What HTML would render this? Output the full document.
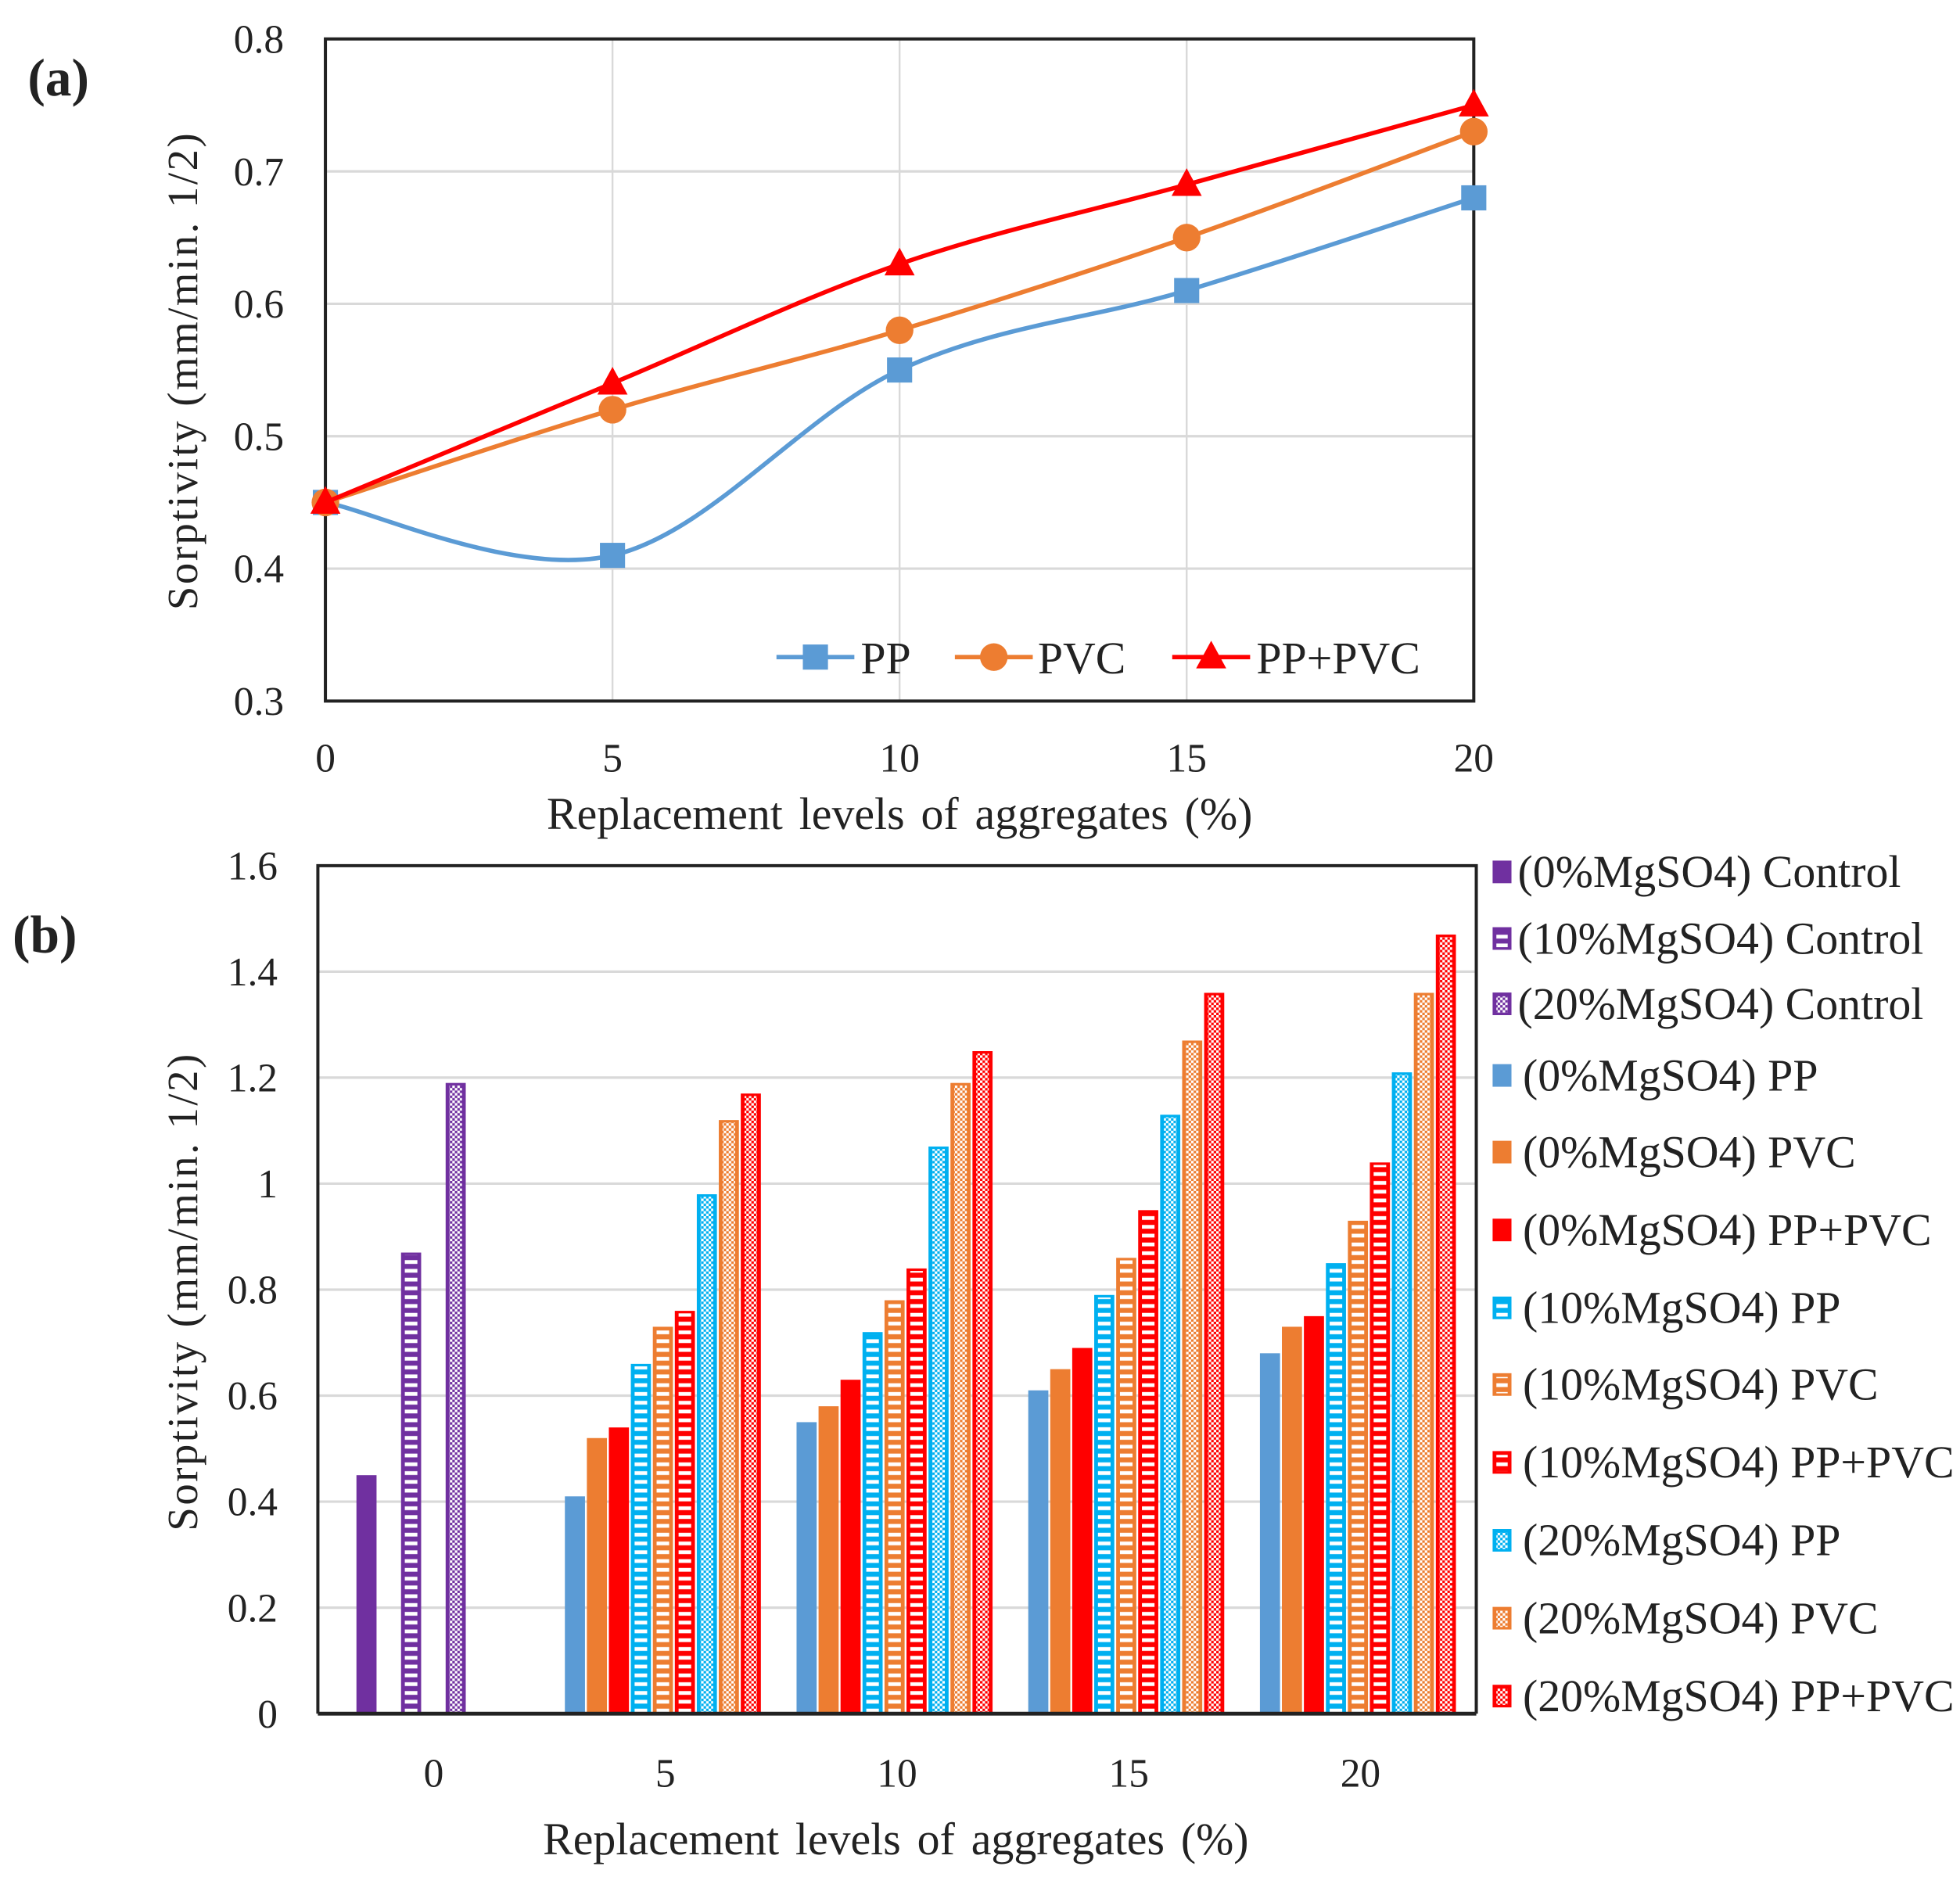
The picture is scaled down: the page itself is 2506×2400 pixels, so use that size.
<!DOCTYPE html>
<html><head><meta charset="utf-8"><style>html,body{margin:0;padding:0;background:#fff}svg{display:block}text{font-family:"Liberation Serif",serif;fill:#222}</style></head>
<body>
<svg id="s" width="2506" height="2400" viewBox="0 0 1560 1494" preserveAspectRatio="none" xmlns="http://www.w3.org/2000/svg">
<defs>
<pattern id="stripe" width="6" height="7" patternUnits="userSpaceOnUse"><rect width="6" height="7" fill="none"/><rect x="0" y="2" width="6" height="3" fill="#fff"/></pattern>
<pattern id="dots" width="4" height="4" patternUnits="userSpaceOnUse"><rect width="2" height="2" fill="#fff"/><rect x="2" y="2" width="2" height="2" fill="#fff"/></pattern>
</defs>
<g id="ga"></g>
<g id="gb"></g>
</svg>
<script>
// ---- Chart (a) data ----
const aX = [0, 5, 10, 15, 20];
const aPP = [0.45, 0.41, 0.55, 0.61, 0.68];
const aPVC = [0.45, 0.52, 0.58, 0.65, 0.73];
const aPPPVC = [0.45, 0.54, 0.63, 0.69, 0.75];
const aYTicks = [0.3, 0.4, 0.5, 0.6, 0.7, 0.8];
const aYTickLabels = ["0.3", "0.4", "0.5", "0.6", "0.7", "0.8"];
// ---- Chart (b) data ----
const bCats = ["0", "5", "10", "15", "20"];
const bControl = [0.45, 0.87, 1.19]; // 0%, 10%, 20% MgSO4 at 0
const bPP0 = [0.41, 0.55, 0.61, 0.68];
const bPVC0 = [0.52, 0.58, 0.65, 0.73];
const bPPPVC0 = [0.54, 0.63, 0.69, 0.75];
const bPP10 = [0.66, 0.72, 0.79, 0.85];
const bPVC10 = [0.73, 0.78, 0.86, 0.93];
const bPPPVC10 = [0.76, 0.84, 0.95, 1.04];
const bPP20 = [0.98, 1.07, 1.13, 1.21];
const bPVC20 = [1.12, 1.19, 1.27, 1.36];
const bPPPVC20 = [1.17, 1.25, 1.36, 1.47];
const bYTicks = [0, 0.2, 0.4, 0.6, 0.8, 1, 1.2, 1.4, 1.6];
const bYTickLabels = ["0", "0.2", "0.4", "0.6", "0.8", "1", "1.2", "1.4", "1.6"];
const bLegend = ["(0%MgSO4) Control","(10%MgSO4) Control","(20%MgSO4) Control","(0%MgSO4) PP","(0%MgSO4) PVC","(0%MgSO4) PP+PVC","(10%MgSO4) PP","(10%MgSO4) PVC","(10%MgSO4) PP+PVC","(20%MgSO4) PP","(20%MgSO4) PVC","(20%MgSO4) PP+PVC"];

const NS = "http://www.w3.org/2000/svg";
function mk(parent, tag, attrs, txt) {
  const e = document.createElementNS(NS, tag);
  for (const k in attrs) e.setAttribute(k, attrs[k]);
  if (txt !== undefined) e.textContent = txt;
  parent.appendChild(e);
  return e;
}
// ===== Chart A =====
const ga = document.getElementById('ga');
const aL = 259, aR = 1173, aT = 31, aB = 558;
const axA = v => aL + (v - 0) / 20 * (aR - aL);
const ayA = v => aB - (v - 0.3) / 0.5 * (aB - aT);
aYTicks.forEach((t, i) => {
  if (i > 0 && i < aYTicks.length - 1) {
    const g = mk(ga, 'line', {x1: aL, x2: aR, y1: ayA(t), y2: ayA(t), stroke: '#d9d9d9', 'stroke-width': 2});
    
    
  }
  const l = mk(ga, 'text', {x: 226, y: ayA(t) + 11, 'text-anchor': 'end', 'font-size': 32}, aYTickLabels[i]);
  
  
});
aX.forEach((x, i) => {
  if (i > 0 && i < aX.length - 1) {
    const g = mk(ga, 'line', {x1: axA(x), x2: axA(x), y1: aT, y2: aB, stroke: '#d9d9d9', 'stroke-width': 1.5});
    
    
  }
  const l = mk(ga, 'text', {x: axA(x), y: 614, 'text-anchor': 'middle', 'font-size': 32}, String(x));
  
  
});
const frA = mk(ga, 'rect', {x: aL, y: aT, width: aR - aL, height: aB - aT, fill: 'none', stroke: '#222', 'stroke-width': 2.5});


function smoothPath(pts) {
  let d = `M${pts[0][0]},${pts[0][1]}`;
  for (let i = 0; i < pts.length - 1; i++) {
    const p0 = pts[Math.max(0, i - 1)], p1 = pts[i], p2 = pts[i + 1], p3 = pts[Math.min(pts.length - 1, i + 2)];
    const t = 0.17;
    const c1 = [p1[0] + (p2[0] - p0[0]) * t, p1[1] + (p2[1] - p0[1]) * t];
    const c2 = [p2[0] - (p3[0] - p1[0]) * t, p2[1] - (p3[1] - p1[1]) * t];
    d += ` C${c1[0]},${c1[1]} ${c2[0]},${c2[1]} ${p2[0]},${p2[1]}`;
  }
  return d;
}
function marker(parent, type, x, y, color) {
  let e;
  if (type === 'sq') e = mk(parent, 'rect', {x: x - 10, y: y - 10, width: 20, height: 20, fill: color});
  else if (type === 'ci') e = mk(parent, 'circle', {cx: x, cy: y, r: 11, fill: color});
  else e = mk(parent, 'polygon', {points: `${x},${y - 13} ${x + 12},${y + 9} ${x - 12},${y + 9}`, fill: color});
  return e;
}
const seriesA = [[aPP, '#5B9BD5', 'sq', 'pp'], [aPVC, '#ED7D31', 'ci', 'pvc'], [aPPPVC, '#FF0000', 'tr', 'pp-pvc']];
seriesA.forEach(([vals, col, mt, nm]) => {
  const pts = vals.map((v, i) => [axA(aX[i]), ayA(v)]);
  const p = mk(ga, 'path', {d: smoothPath(pts), fill: 'none', stroke: col, 'stroke-width': 3.5});
  
  
  pts.forEach(pt => {
    const m = marker(ga, mt, pt[0], pt[1], col);
    
    
  });
});
[[618, 685, 'PP', '#5B9BD5', 'sq'], [760, 826, 'PVC', '#ED7D31', 'ci'], [933, 1000, 'PP+PVC', '#FF0000', 'tr']].forEach(([x0, tx, lab, col, mt]) => {
  const g = mk(ga, 'g', {});
  
  
  mk(g, 'line', {x1: x0, x2: x0 + 62, y1: 523, y2: 523, stroke: col, 'stroke-width': 3.5});
  marker(g, mt, x0 + 31, 523, col);
  mk(g, 'text', {x: tx, y: 536, 'font-size': 36}, lab);
});
let t;
t = mk(ga, 'text', {x: 22, y: 76, 'font-size': 42, 'font-weight': 'bold'}, '(a)');
 
t = mk(ga, 'text', {x: 716, y: 660, 'text-anchor': 'middle', 'font-size': 36, 'word-spacing': 4}, 'Replacement levels  of aggregates (%)');
 
t = mk(ga, 'text', {x: 0, y: 0, 'text-anchor': 'middle', 'font-size': 34, 'letter-spacing': 1.6, transform: 'translate(157,295) rotate(-90)'}, 'Sorptivity (mm/min. 1/2)');
 

// ===== Chart B =====
const gb = document.getElementById('gb');
const bL = 253, bR = 1175, bT = 689, bB = 1364;
const catW = (bR - bL) / bCats.length;
const cx = i => bL + catW * (i + 0.5);
const ayB = v => bB - v / 1.6 * (bB - bT);
bYTicks.forEach((tk, i) => {
  if (i > 0 && i < bYTicks.length - 1) {
    const g = mk(gb, 'line', {x1: bL, x2: bR, y1: ayB(tk), y2: ayB(tk), stroke: '#d9d9d9', 'stroke-width': 2});
    
    
  }
  const l = mk(gb, 'text', {x: 221, y: ayB(tk) + 11, 'text-anchor': 'end', 'font-size': 32}, bYTickLabels[i]);
  
  
});
bCats.forEach((c, i) => {
  const l = mk(gb, 'text', {x: cx(i), y: 1422, 'text-anchor': 'middle', 'font-size': 32}, c);
  
  
});
const BW = 16;
function bar(x, v, color, kind, nm) {
  const g = mk(gb, 'g', {});
  
  
  mk(g, 'rect', {x: x - BW / 2, y: ayB(v), width: BW, height: bB - ayB(v), fill: color});
  if (kind > 0) {
    mk(g, 'rect', {x: x - BW / 2 + 3, y: ayB(v) + 2, width: BW - 6, height: Math.max(0, bB - ayB(v) - 2), fill: kind === 1 ? 'url(#stripe)' : 'url(#dots)'});
  }
}
const ctrlKinds = [0, 1, 2];
bControl.forEach((v, k) => bar(cx(0) + (k - 1) * 35.5 - 18, v, '#7030A0', ctrlKinds[k], 'b-bar-control'));
const bSeries = [[bPP0, '#5B9BD5', 0, 'pp-0'], [bPVC0, '#ED7D31', 0, 'pvc-0'], [bPPPVC0, '#FF0000', 0, 'pp-pvc-0'],
  [bPP10, '#00B0F0', 1, 'pp-10'], [bPVC10, '#ED7D31', 1, 'pvc-10'], [bPPPVC10, '#FF0000', 1, 'pp-pvc-10'],
  [bPP20, '#00B0F0', 2, 'pp-20'], [bPVC20, '#ED7D31', 2, 'pvc-20'], [bPPPVC20, '#FF0000', 2, 'pp-pvc-20']];
bSeries.forEach(([vals, col, kind, nm], s) => {
  vals.forEach((v, j) => bar(cx(j + 1) + (s - 4) * 17.5 - 2, v, col, kind, 'b-bar-' + nm));
});
const frB = mk(gb, 'polyline', {points: `${bL},${bB} ${bL},${bT} ${bR},${bT} ${bR},${bB}`, fill: 'none', stroke: '#222', 'stroke-width': 2.5});


const axB = mk(gb, 'line', {x1: bL, x2: bR, y1: bB, y2: bB, stroke: '#222', 'stroke-width': 3});


const legY = [694, 747, 799, 856, 917, 979, 1041, 1102, 1164, 1226, 1288, 1350];
const legCol = ['#7030A0', '#7030A0', '#7030A0', '#5B9BD5', '#ED7D31', '#FF0000', '#00B0F0', '#ED7D31', '#FF0000', '#00B0F0', '#ED7D31', '#FF0000'];
const legKind = [0, 1, 2, 0, 0, 0, 1, 1, 1, 2, 2, 2];
bLegend.forEach((lab, i) => {
  const g = mk(gb, 'g', {});
  
  
  mk(g, 'rect', {x: 1188, y: legY[i] - 9, width: 15, height: 18, fill: legCol[i]});
  if (legKind[i]) mk(g, 'rect', {x: 1191, y: legY[i] - 6, width: 9, height: 13, fill: legKind[i] === 1 ? 'url(#stripe)' : 'url(#dots)'});
  mk(g, 'text', {x: i < 3 ? 1208 : 1212, y: legY[i] + 12, 'font-size': 36}, lab);
});
t = mk(gb, 'text', {x: 10, y: 758, 'font-size': 42, 'font-weight': 'bold'}, '(b)');
 
t = mk(gb, 'text', {x: 713, y: 1476, 'text-anchor': 'middle', 'font-size': 36, 'word-spacing': 4}, 'Replacement levels  of aggregates (%)');
 
t = mk(gb, 'text', {x: 0, y: 0, 'text-anchor': 'middle', 'font-size': 34, 'letter-spacing': 1.6, transform: 'translate(157,1028) rotate(-90)'}, 'Sorptivity (mm/min. 1/2)');
 
</script>
</body></html>
